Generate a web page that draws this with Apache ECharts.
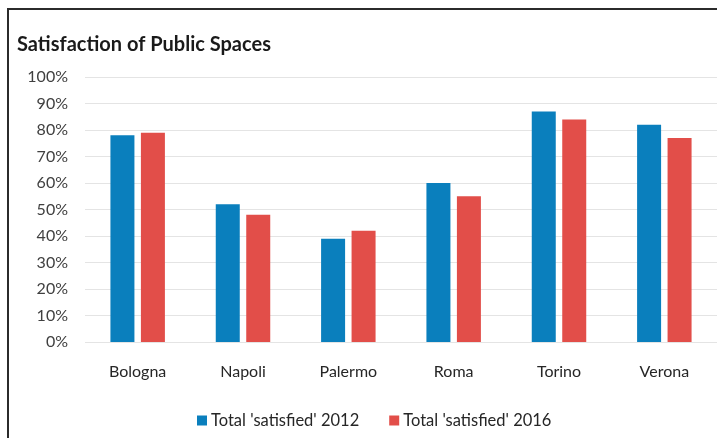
<!DOCTYPE html>
<html>
<head>
<meta charset="utf-8">
<script src="https://cdn.jsdelivr.net/npm/echarts@6/dist/echarts.min.js"></script>
<style>
html,body{margin:0;padding:0;background:#fff;overflow:hidden;}
#frame{position:absolute;left:7px;top:8px;width:760px;height:480px;border-left:2px solid #2b2b2b;border-top:2px solid #2b2b2b;}
#chart{position:absolute;left:0;top:0;width:717px;height:438px;}
</style>
</head>
<body>
<div id="frame"></div>
<div id="chart"></div>
<script>
const categories = ['Bologna', 'Napoli', 'Palermo', 'Roma', 'Torino', 'Verona'];
const seriesNames = ["Total 'satisfied' 2012", "Total 'satisfied' 2016"];
const values2012 = [78, 52, 39, 60, 87, 82];
const values2016 = [79, 48, 42, 55, 84, 77];
const yTicks = [0, 10, 20, 30, 40, 50, 60, 70, 80, 90, 100];

const chart = echarts.init(document.getElementById('chart'), null, {renderer: 'canvas'});
const font = 'Lato, "Open Sans", sans-serif';
chart.setOption({
  animation: false,
  backgroundColor: 'transparent',
  title: {
    text: 'Satisfaction of Public Spaces',
    left: 12, top: 30,
    textStyle: {fontFamily: font, fontSize: 20, fontWeight: 'bold', color: '#1a1a1a'}
  },
  legend: {
    data: seriesNames,
    left: 192, top: 407,
    itemWidth: 10, itemHeight: 10, itemGap: 30,
    icon: 'rect',
    textStyle: {fontFamily: font, fontSize: 16.5, color: '#262626', padding: [0,0,0,-1]}
  },
  grid: {left: 85, right: -3, top: 77, bottom: 96, containLabel: false},
  xAxis: {
    type: 'category',
    data: categories,
    axisLine: {show: false},
    axisTick: {show: false},
    axisLabel: {fontFamily: font, fontSize: 16, color: '#262626', margin: 22}
  },
  yAxis: {
    type: 'value',
    min: yTicks[0], max: yTicks[yTicks.length - 1], interval: 10,
    axisLine: {show: false},
    axisTick: {show: false},
    axisLabel: {fontFamily: font, fontSize: 16, color: '#404040', margin: 17, formatter: '{value}%'},
    splitLine: {lineStyle: {color: '#e4e4e4', width: 1}}
  },
  series: [
    {name: seriesNames[0], type: 'bar', data: values2012, barWidth: 24, barGap: '27%',
     itemStyle: {color: '#0a7fbd'}},
    {name: seriesNames[1], type: 'bar', data: values2016, barWidth: 24,
     itemStyle: {color: '#e24e49'}}
  ]
});
</script>
</body>
</html>
